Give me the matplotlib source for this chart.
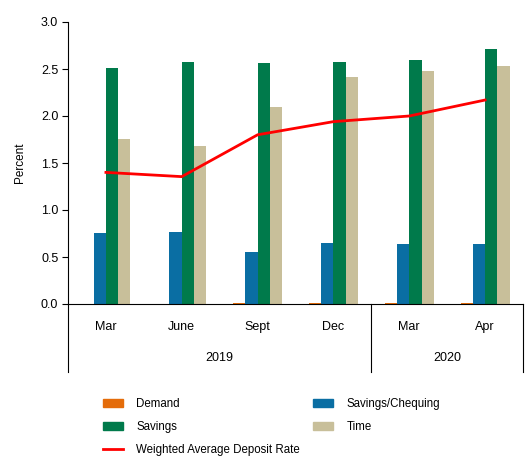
import matplotlib
matplotlib.use("Agg")
import matplotlib.pyplot as plt
from matplotlib.patches import Patch
from matplotlib.lines import Line2D
import numpy as np

plt.rcParams['font.family'] = ['Liberation Sans', 'DejaVu Sans']

months = ["Mar", "June", "Sept", "Dec", "Mar", "Apr"]
years = ["2019", "2020"]
year_counts = [4, 2]
demand = [0.0, 0.0, 0.01, 0.01, 0.01, 0.01]
sav_cheq = [0.755, 0.77, 0.55, 0.645, 0.635, 0.64]
savings = [2.51, 2.57, 2.56, 2.57, 2.60, 2.71]
time_dep = [1.755, 1.68, 2.10, 2.41, 2.48, 2.53]
wadr = [1.40, 1.355, 1.80, 1.94, 2.00, 2.17]

c_dem = "#E46C0A"
c_sc = "#0A6EA3"
c_sav = "#007A4B"
c_time = "#C8BF9A"
c_line = "#FF0000"

fig = plt.figure(figsize=(5.25, 4.57), dpi=100)
ax = fig.add_axes([68/525, 1-304/457, (523-68)/525, 282/457])

x = np.arange(len(months))
w = 0.162
ax.bar(x - 1.5*w, demand, w, color=c_dem)
ax.bar(x - 0.5*w, sav_cheq, w, color=c_sc)
ax.bar(x + 0.5*w, savings, w, color=c_sav)
ax.bar(x + 1.5*w, time_dep, w, color=c_time)
ax.plot(x, wadr, color=c_line, lw=2)

ax.set_xlim(-0.5, len(months) - 0.5)
ax.set_ylim(0, 3.0)
ax.set_yticks(np.arange(0, 3.01, 0.5))
ax.set_yticklabels([f"{v:.1f}" for v in np.arange(0, 3.01, 0.5)], fontsize=9)
ax.tick_params(axis='y', length=4, width=0.8, direction='out', pad=3)
ax.set_xticks([])
for s in ['top', 'right']:
    ax.spines[s].set_visible(False)
ax.spines['left'].set_color('black')
ax.spines['bottom'].set_color('black')
ax.spines['left'].set_linewidth(0.8)
ax.spines['bottom'].set_linewidth(0.8)
ax.set_ylabel("Percent", fontsize=8.5, labelpad=11)

trans = ax.get_xaxis_transform()
depth = -68/282
bounds = [-0.5]
acc = -0.5
for c in year_counts:
    acc += c
    bounds.append(acc)
for b in bounds:
    ax.plot([b, b], [0, depth], transform=trans, color='black', lw=0.8, clip_on=False)
for i, m in enumerate(months):
    ax.text(i, -23/282, m, transform=trans, ha='center', va='center', fontsize=9)
start = -0.5
for yr, c in zip(years, year_counts):
    ax.text(start + c/2, -54/282, yr, transform=trans, ha='center', va='center', fontsize=9)
    start += c

handles = [Patch(color=c_dem), Patch(color=c_sav), Line2D([], [], color=c_line, lw=2),
           Patch(color=c_sc), Patch(color=c_time)]
labels = ["Demand", "Savings", "Weighted Average Deposit Rate", "Savings/Chequing", "Time"]
fig.legend(handles, labels, ncol=2, loc='upper left', bbox_to_anchor=(103/525, 1-398/457),
           frameon=False, fontsize=8.3, handlelength=1.75, handleheight=0.65,
           handletextpad=1.15, columnspacing=1.1, labelspacing=0.95, borderaxespad=0, borderpad=0)

fig.savefig("out.png", dpi=100)
